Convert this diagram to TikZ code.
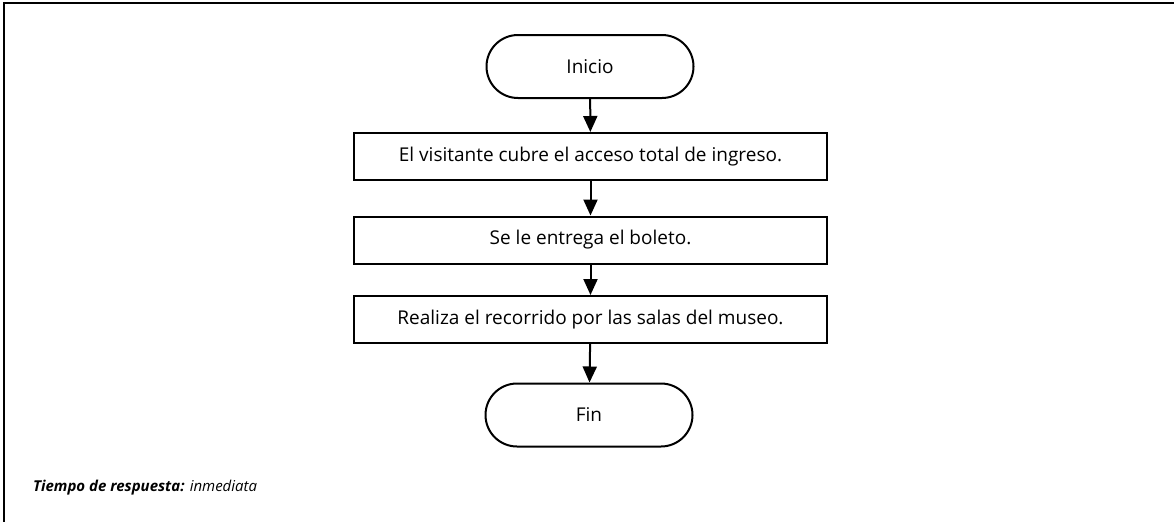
\documentclass[tikz,border=0pt]{standalone}
\usepackage{fontspec}
\setmainfont{Open Sans}
\usetikzlibrary{arrows.meta,shapes.misc}
\tikzset{
  stepbox/.style={draw, line width=2pt, rectangle, minimum width=473pt, minimum height=47pt, inner sep=0pt, font=\fontsize{19pt}{21pt}\selectfont},
  term/.style={draw, line width=2pt, rounded rectangle, minimum width=207pt, minimum height=63pt, inner sep=0pt, font=\fontsize{19pt}{21pt}\selectfont},
  flow/.style={line width=2pt, -{Triangle[width=14pt,length=16pt]}}
}
\begin{document}
\begin{tikzpicture}[x=1pt,y=-1pt]
\useasboundingbox (0,0) rectangle (1174,522);
\draw[line width=2.5pt] (1174,3) -- (4,3) -- (4,522);
\node[term] (inicio) at (590,66.5) {Inicio};
\node[stepbox] (b1) at (590.5,156.5) {El visitante cubre el acceso total de ingreso.};
\node[stepbox] (b2) at (590.5,240) {Se le entrega el boleto.};
\node[stepbox] (b3) at (590.5,319.5) {Realiza el recorrido por las salas del museo.};
\node[term] (fin) at (589,415) {Fin};
\draw[flow] (inicio) -- (b1);
\draw[flow] (b1) -- (b2);
\draw[flow] (b2) -- (b3);
\draw[flow] (b3) -- (fin);
\node[anchor=base west, inner sep=0pt, font=\fontsize{15pt}{17pt}\selectfont\itshape] (tiempo) at (33,491) {\textbf{Tiempo de respuesta:} inmediata};
\end{tikzpicture}
\end{document}
